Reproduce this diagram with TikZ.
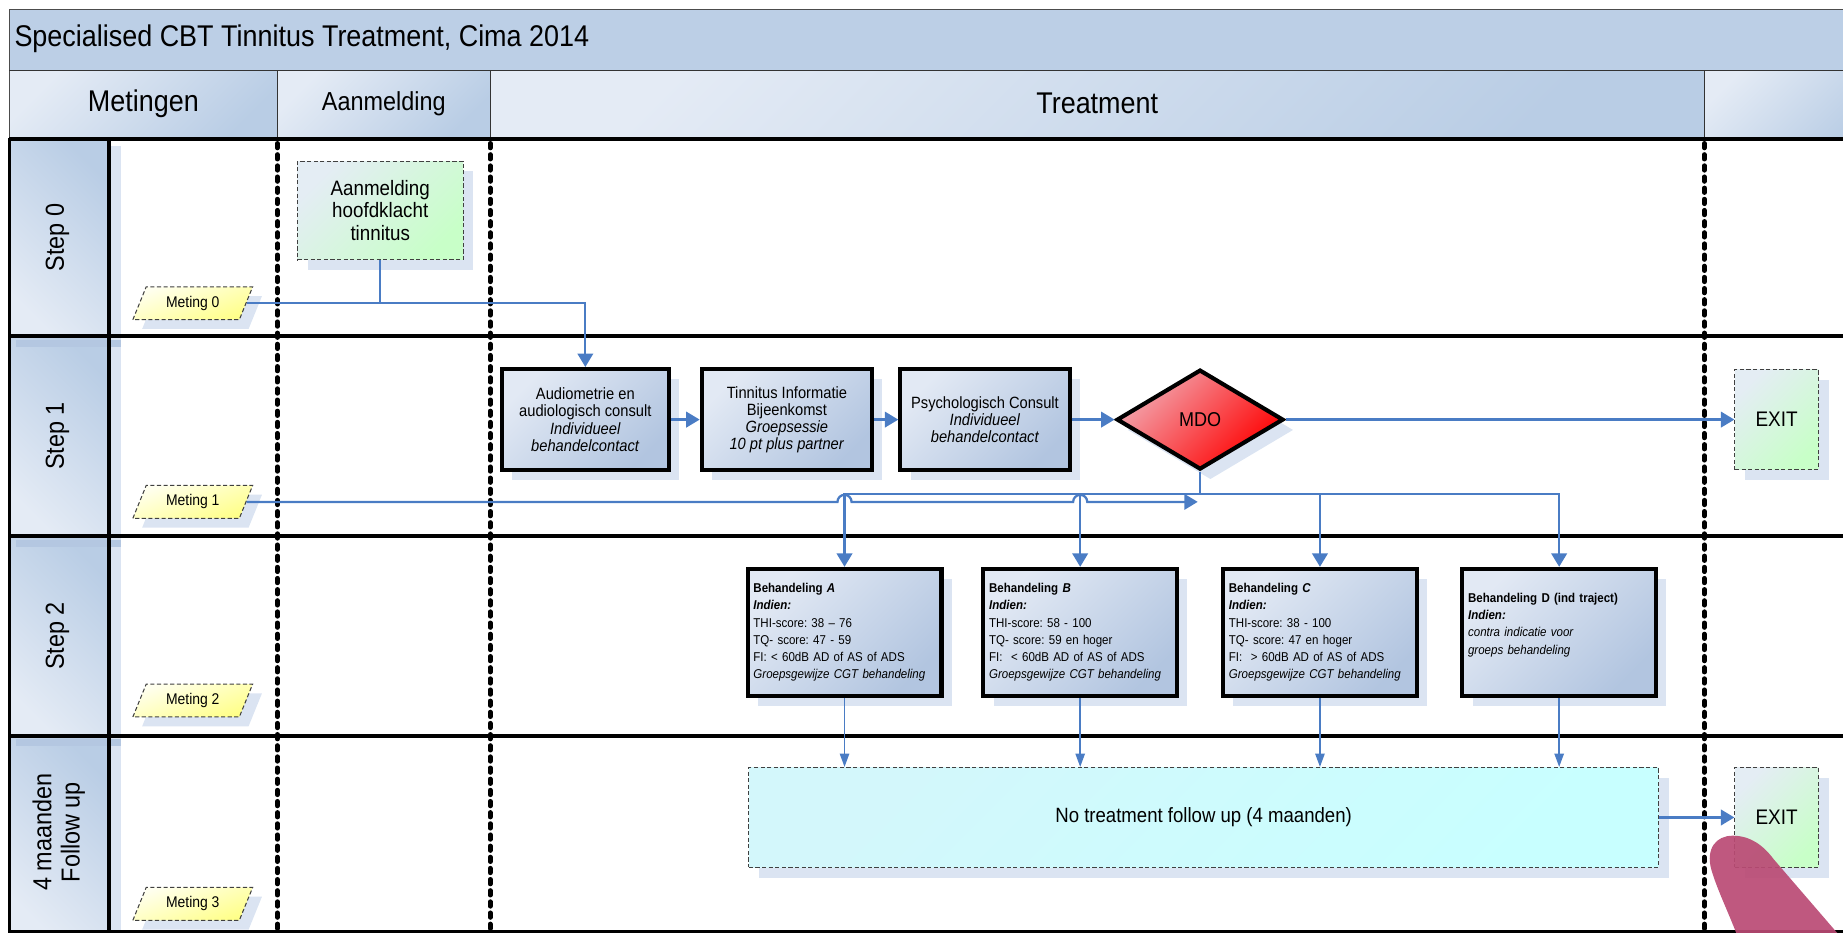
\documentclass[tikz,border=0pt]{standalone}
\usepackage{fontspec}
\setmainfont{Liberation Sans}[FakeStretch=0.9]
\usetikzlibrary{shapes.geometric,arrows.meta,shadows,calc}
\frenchspacing

\definecolor{bandblue}{HTML}{B9CDE5}
\definecolor{paleblue}{HTML}{E4EBF5}
\definecolor{shadeblue}{HTML}{DBE4F2}
\definecolor{flowblue}{HTML}{4A7CC4}
\definecolor{boxlight}{HTML}{E2E9F4}
\definecolor{boxdark}{HTML}{B2C5E0}
\definecolor{exitgreen}{HTML}{C8FFC8}
\definecolor{exitgrey}{HTML}{E4EDF4}
\definecolor{metyellow}{HTML}{FFFF88}
\definecolor{fupcyan}{HTML}{C8FFFF}
\definecolor{mdopink}{HTML}{F2A7B0}
\definecolor{mdored}{HTML}{FF0000}
\definecolor{blobred}{HTML}{BA4A74}

\begin{document}
\begin{tikzpicture}[x=0.02cm, y=-0.02cm,
    boxshadow/.style={general shadow={fill=shadeblue, shadow xshift=5pt, shadow yshift=-5pt}},
    procbox/.style={draw=black, line width=2pt, top color=boxlight, bottom color=boxdark, shading angle=45,
        minimum height=1.72cm, inner sep=1pt, align=center, font=\fontsize{7.9}{8.3}\selectfont, boxshadow},
    behbox/.style={procbox, align=left, text width=3.1cm, minimum height=2.16cm, inner xsep=0.1cm,
        font=\fontsize{6.2}{8.3}\selectfont},
    notebox/.style={draw=black!75, line width=0.5pt, dash pattern=on 2pt off 1.2pt, align=center, inner sep=1pt, boxshadow},
    greenbox/.style={notebox, top color=exitgrey, bottom color=exitgreen, shading angle=45},
    metbox/.style={trapezium, trapezium left angle=62, trapezium right angle=118, trapezium stretches=true,
        minimum width=2.04cm, minimum height=0.56cm, inner sep=0pt, draw=black!75, line width=0.5pt,
        dash pattern=on 2pt off 1.2pt, top color=yellow!6!white, bottom color=metyellow, shading angle=20,
        font=\fontsize{7.5}{8}\selectfont, general shadow={fill=shadeblue, shadow xshift=4.5pt, shadow yshift=-4.5pt}},
    mdobox/.style={diamond, aspect=1.67, minimum width=2.84cm, minimum height=1.7cm, inner sep=0pt,
        draw=black, line width=2pt, top color=mdopink, bottom color=mdored, shading angle=45,
        font=\fontsize{9.7}{10}\selectfont, boxshadow},
    lanetext/.style={rotate=90, align=center, font=\fontsize{12.6}{13.6}\selectfont},
    headtext/.style={font=\fontsize{14.5}{16}\selectfont},
    thickline/.style={line width=1.8pt},
    divider/.style={line width=2.3pt, dash pattern=on 2.2pt off 3.2pt, line cap=round},
    flowline/.style={draw=flowblue, line width=1.1pt},
    flow/.style={flowline, -{Triangle[length=6.5pt, width=7.5pt]}},
    flowthin/.style={draw=flowblue, line width=0.9pt, -{Triangle[length=6.5pt, width=4.5pt]}}]

    \useasboundingbox (0,0) rectangle (1568,793);
    \clip (0,0) rectangle (1568,793);

    % title and column headers
    \fill[bandblue!92!paleblue] (8,8) rectangle (1600,60);
    \shade[top color=paleblue, bottom color=bandblue, shading angle=45] (8,60) rectangle (236,117);
    \shade[top color=paleblue, bottom color=bandblue, shading angle=45] (236,60) rectangle (417,117);
    \shade[top color=paleblue, bottom color=bandblue, shading angle=45] (417,60) rectangle (1450,117);
    \shade[top color=paleblue, bottom color=bandblue, shading angle=45] (1450,60) rectangle (1600,117);
    \draw[black!70, line width=0.6pt] (1600,8) -- (8,8) -- (8,118);
    \draw[black!80, line width=0.6pt] (8,60) -- (1600,60);
    \draw[black!80, line width=0.6pt] (236,60) -- (236,118);
    \draw[black!80, line width=0.6pt] (417,60) -- (417,118);
    \draw[black!80, line width=0.6pt] (1450,60) -- (1450,118);

    \node[anchor=west, inner xsep=0pt, font=\fontsize{14.5}{16}\selectfont] (title) at (12,33) {Specialised CBT Tinnitus Treatment, Cima 2014};
    \node[headtext] (hmet) at (122,88) {Metingen};
    \node[headtext, font=\fontsize{12.6}{14}\selectfont] (haan) at (326.5,88) {Aanmelding};
    \node[headtext] (htreat) at (933.5,88) {Treatment};

    % lane labels
    \shade[top color=bandblue, bottom color=paleblue, shading angle=-45] (8,118) rectangle (93,286);
    \shade[top color=bandblue, bottom color=paleblue, shading angle=-45] (8,286) rectangle (93,456);
    \shade[top color=bandblue, bottom color=paleblue, shading angle=-45] (8,456) rectangle (93,626);
    \shade[top color=bandblue, bottom color=paleblue, shading angle=-45] (8,626) rectangle (93,800);
    \fill[shadeblue] (94,124) rectangle (103,800);
    \fill[boxdark!80!bandblue] (14,289) rectangle (103,295);
    \fill[boxdark!80!bandblue] (14,459) rectangle (103,465);
    \fill[boxdark!80!bandblue] (14,629) rectangle (103,635);

    \node[lanetext] (lane0) at (49,202) {Step 0};
    \node[lanetext] (lane1) at (49,371) {Step 1};
    \node[lanetext] (lane2) at (49,541) {Step 2};
    \node[lanetext] (lane3) at (50,708) {4 maanden\\Follow up};

    % lane borders
    \draw[thickline] (8,118) -- (1600,118);
    \draw[thickline] (8,286) -- (1600,286);
    \draw[thickline] (8,456) -- (1600,456);
    \draw[thickline] (8,626) -- (1600,626);
    \draw[thickline] (8,117) -- (8,800);
    \draw[thickline] (93,118) -- (93,800);
    \draw[line width=1pt] (8,792.5) -- (1600,792.5);
    \draw[divider] (236,122) -- (236,800);
    \draw[divider] (417,122) -- (417,800);
    \draw[divider] (1450,122) -- (1450,800);

    % steps
    \node[greenbox, minimum width=2.82cm, minimum height=1.68cm, font=\fontsize{10.1}{10.8}\selectfont] (aanm) at (323.5,179) {Aanmelding\\hoofdklacht\\tinnitus};
    \node[metbox] (met0) at (164,258) {Meting 0};
    \node[metbox] (met1) at (164,427) {Meting 1};
    \node[metbox] (met2) at (164,596) {Meting 2};
    \node[metbox] (met3) at (164,769) {Meting 3};

    \node[procbox, minimum width=2.84cm] (audio) at (498,357) {Audiometrie en\\audiologisch consult\\\textit{Individueel}\\\textit{behandelcontact}};
    \node[procbox, minimum width=2.9cm] (tinfo) at (669.5,357) {Tinnitus Informatie\\Bijeenkomst\\\textit{Groepsessie}\\\textit{10 pt plus partner}};
    \node[procbox, minimum width=2.88cm] (psych) at (838,357) {Psychologisch Consult\\\textit{Individueel}\\\textit{behandelcontact}};
    \node[mdobox] (mdo) at (1021,357) {MDO};
    \node[greenbox, minimum width=1.42cm, minimum height=1.7cm, font=\fontsize{10.2}{11}\selectfont] (exit1) at (1511.5,357) {EXIT};

    \node[behbox] (behA) at (718.5,538) {\textbf{Behandeling \textit{A}}\\\textbf{\textit{Indien:}}\\THI-score: 38 – 76\\TQ- score: 47 - 59\\FI: < 60dB AD of AS of ADS\\\textit{Groepsgewijze CGT behandeling}};
    \node[behbox] (behB) at (919,538) {\textbf{Behandeling \textit{B}}\\\textbf{\textit{Indien:}}\\THI-score: 58 - 100\\TQ- score: 59 en hoger\\FI:\ \ < 60dB AD of AS of ADS\\\textit{Groepsgewijze CGT behandeling}};
    \node[behbox] (behC) at (1123,538) {\textbf{Behandeling \textit{C}}\\\textbf{\textit{Indien:}}\\THI-score: 38 - 100\\TQ- score: 47 en hoger\\FI:\ \ > 60dB AD of AS of ADS\\\textit{Groepsgewijze CGT behandeling}};
    \node[behbox] (behD) at (1326.5,538) {\textbf{Behandeling D (ind traject)}\\\textbf{\textit{Indien:}}\\\textit{contra indicatie voor}\\\textit{groeps behandeling}\\\mbox{}};

    \node[notebox, top color=paleblue!40!fupcyan, bottom color=fupcyan, shading angle=45, minimum width=15.48cm, minimum height=1.7cm, font=\fontsize{10}{11}\selectfont] (fup) at (1024,695.5) {No treatment follow up (4 maanden)};
    \node[greenbox, minimum width=1.42cm, minimum height=1.7cm, font=\fontsize{10.2}{11}\selectfont] (exit2) at (1511.5,695.5) {EXIT};

    % connectors
    \coordinate (j0) at (aanm.south |- met0.east);
    \draw[flowline] (met0.east) -- (j0);
    \draw[flow] (aanm.south) -- (j0) -| (audio.north);
    \draw[flow] (audio) -- (tinfo);
    \draw[flow] (tinfo) -- (psych);
    \draw[flow] (psych) -- (mdo);
    \draw[flow] (mdo) -- (exit1);

    \coordinate (br) at (1021,420);
    \draw[flowline] (mdo.south) -- (br);
    \draw[flow] (br) -| (behA.north);
    \draw[flow] (br) -| (behB.north);
    \draw[flow] (br) -| (behC.north);
    \draw[flow] (br) -| (behD.north);

    \coordinate (m1end) at (1019,427);
    \draw[flow] (met1.east) -- ($(met1.east -| behA.north)+(-6,0)$) arc[start angle=180, end angle=360, radius=6]
        -- ($(met1.east -| behB.north)+(-6,0)$) arc[start angle=180, end angle=360, radius=6] -- (m1end);

    \draw[flowthin] (behA.south) -- (behA.south |- fup.north);
    \draw[flowthin] (behB.south) -- (behB.south |- fup.north);
    \draw[flowthin] (behC.south) -- (behC.south |- fup.north);
    \draw[flowthin] (behD.south) -- (behD.south |- fup.north);
    \draw[flow] (fup) -- (exit2);

    \fill[blobred, opacity=0.92] (1456,740) .. controls (1451,722) and (1460,711) .. (1474,711)
        .. controls (1489,711) and (1500,719) .. (1509,731) -- (1565,796) -- (1478,796)
        .. controls (1470,775) and (1461,757) .. (1456,740) -- cycle;
\end{tikzpicture}
\end{document}
